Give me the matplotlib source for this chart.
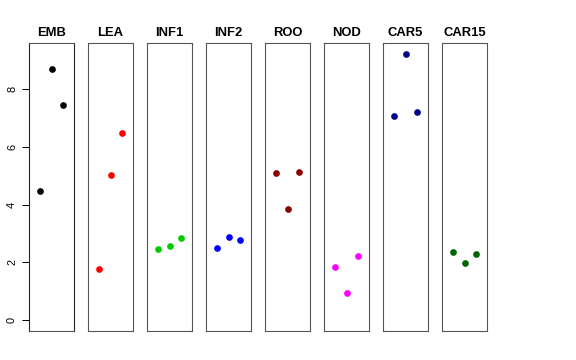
import matplotlib
matplotlib.use('Agg')
import matplotlib.pyplot as plt

# Datos de cada panel (tres puntos por tejido)
tejidos = ['EMB', 'LEA', 'INF1', 'INF2', 'ROO', 'NOD', 'CAR5', 'CAR15']
colores = ['black', 'red', '#00CD00', 'blue', '#8B0000', 'magenta', '#00008B', '#006400']
posiciones = [1, 2, 3]
valores = [
    [4.48, 8.68, 7.42],
    [1.76, 5.03, 6.47],
    [2.47, 2.58, 2.85],
    [2.51, 2.88, 2.76],
    [5.09, 3.84, 5.13],
    [1.83, 0.95, 2.23],
    [7.07, 9.21, 7.19],
    [2.35, 1.99, 2.28],
]
ticks_y = [0, 2, 4, 6, 8]

plt.rcParams['font.family'] = ['Liberation Sans', 'DejaVu Sans']

fig = plt.figure(figsize=(8, 5), dpi=72)
W, H = 576.0, 360.0
ymax = max(max(v) for v in valores)
ylim = (-0.04 * ymax, ymax * 1.04)

for i, (nombre, color, vals) in enumerate(zip(tejidos, colores, valores)):
    izq = 29 + 59 * i
    ax = fig.add_axes([izq / W, 29 / H, 45 / W, 288 / H])
    ax.plot(posiciones, vals, 'o', color=color, ms=6.7, mew=0)
    ax.set_xlim(0, 4)
    ax.set_ylim(*ylim)
    ax.set_xticks([])
    ax.set_title(nombre, fontsize=13, fontweight='bold', pad=7)
    for lado in ['top', 'bottom', 'left', 'right']:
        ax.spines[lado].set_color('#555555')
        ax.spines[lado].set_linewidth(1.1)
    if i == 0:
        ax.spines['left'].set_color('#222222')
        ax.spines['right'].set_color('#222222')
        ax.set_yticks(ticks_y)
        ax.set_yticklabels([str(t) for t in ticks_y], rotation=90, va='center', fontsize=11)
        ax.tick_params(axis='y', length=7, width=1, pad=5)
    else:
        ax.set_yticks([])

plt.savefig('out.png', dpi=72)
